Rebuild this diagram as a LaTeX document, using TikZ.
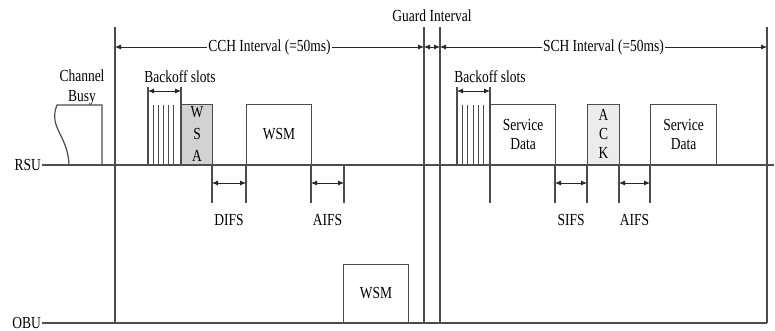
\documentclass[tikz,border=0pt]{standalone}
\usepackage{fontspec}
\setmainfont{Liberation Serif}
\usetikzlibrary{arrows.meta}

\tikzset{
  line/.style={draw=black!70, line width=1.2pt},
  slot/.style={draw=black!70, line width=0.8pt},
  span/.style={draw=black!85, line width=0.8pt, {Latex[length=6pt,width=5pt]}-{Latex[length=6pt,width=5pt]}},
  lbl/.style={font=\fontsize{13.5}{17}\selectfont, inner sep=1pt, align=center, yscale=1.25},
  pkt/.style={draw=black!70, line width=1.1pt, anchor=south west, inner sep=0pt, yscale=1.25,
    align=center, font=\fontsize{13.5}{17}\selectfont, minimum height=48pt},
}

\begin{document}
\begin{tikzpicture}[x=1pt,y=-1pt]
\useasboundingbox (0,0) rectangle (775,331);
% time lines
\node[lbl, anchor=east] (rsu) at (42,165) {RSU};
\node[lbl, anchor=east] (obu) at (42,323) {OBU};
\coordinate (rsuend) at (774,165);
\coordinate (obuend) at (767,323);
\draw[line] (rsu.east) -- (rsuend);
\draw[line] (obu.east) -- (obuend);

% interval borders
\foreach \x/\n in {115/a, 424/b, 440/c, 767/d}{
  \coordinate (top\n) at (\x,27);
  \coordinate (bot\n) at (\x,323);
  \coordinate (arr\n) at (\x,47);
  \draw[line] (top\n) -- (bot\n);
}
\draw[span] (arra) -- node[lbl, fill=white] (cch) {CCH Interval (=50ms)} (arrb);
\draw[span] (arrb) -- (arrc);
\draw[span] (arrc) -- node[lbl, fill=white] (sch) {SCH Interval (=50ms)} (arrd);
\node[lbl] (guard) at (432,16) {Guard Interval};

% channel busy
\node[lbl] (busy) at (82,87) {Channel\\[-1pt]Busy};
\draw[line] (69,165) .. controls (68,135) and (48,128) .. (57,105) -- (102,105) -- (102,165);

% backoff slots
\node[lbl] (boffa) at (180,77) {Backoff slots};
\node[lbl] (boffb) at (490,77) {Backoff slots};
\draw[line] (148,87) -- (148,165);
\draw[line] (457,87) -- (457,165);
\foreach \x in {153,158,163,168,173,462,467,473,478,483}
  \draw[slot] (\x,105) -- (\x,165);
\draw[span] (148,91) -- (181,91);
\draw[span] (457,91) -- (490,91);
\draw[line] (181,87) -- (181,165);
\draw[line] (490,87) -- (490,203);

% frames
\node[pkt, fill=gray!35, minimum width=31pt] (wsa) at (181,165) {W\\[0.6pt]S\\[0.6pt]A};
\node[pkt, minimum width=65pt] (wsma) at (246,165) {WSM};
\node[pkt, minimum width=65pt, minimum height=46.4pt] (wsmb) at (343,323) {WSM};
\node[pkt, minimum width=65pt] (sdata) at (490,165) {Service\\[-1.8pt]Data};
\node[pkt, fill=gray!15, minimum width=32pt] (ack) at (587,165) {A\\[-1.8pt]C\\[-1.8pt]K};
\node[pkt, minimum width=66pt] (sdatb) at (650,165) {Service\\[-1.8pt]Data};

% inter frame spaces
\foreach \a/\b/\t [count=\i] in {212/246/DIFS, 311/344/AIFS, 555/587/SIFS, 619/650/AIFS}{
  \draw[line] (\a,165) -- (\a,203);
  \draw[line] (\b,165) -- (\b,203);
  \draw[span] (\a,183) -- (\b,183);
  \node[lbl] (ifs\i) at ({(\a+\b)/2},220) {\t};
}
\end{tikzpicture}
\end{document}
